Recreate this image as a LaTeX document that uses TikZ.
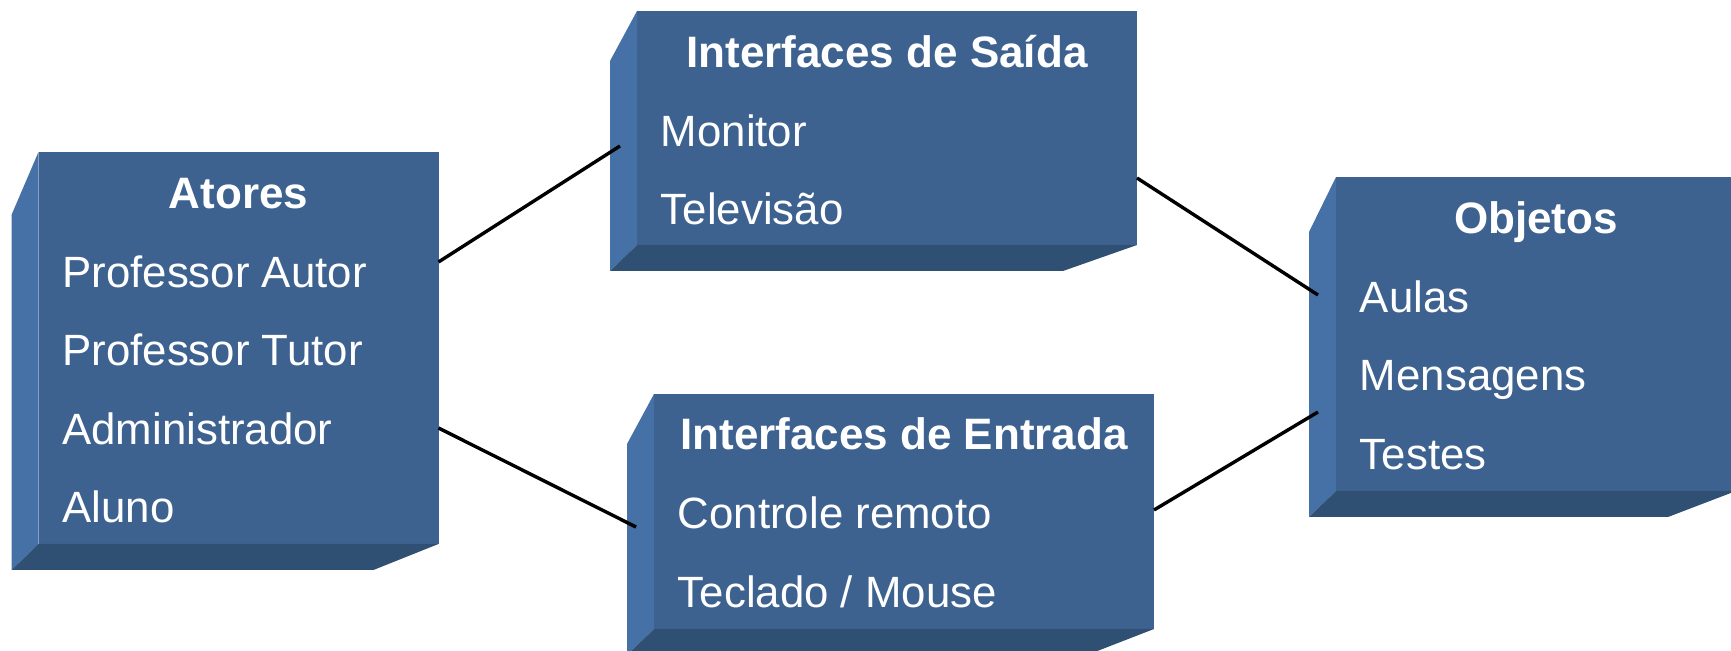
\documentclass[tikz,border=0pt]{standalone}
\usepackage{fontspec}
\setmainfont{Liberation Sans}
\usetikzlibrary{positioning,calc}
\definecolor{frontblue}{HTML}{3E6290}
\definecolor{sideblue}{HTML}{4571A6}
\definecolor{bottomblue}{HTML}{2F4F73}
\tikzstyle{front} = [rectangle, fill=frontblue, anchor=north west, inner sep=0pt, outer sep=0pt]
\tikzstyle{title} = [text=white, anchor=base, inner sep=0pt, font=\fontsize{22}{26}\selectfont\bfseries]
\tikzstyle{item} = [text=white, anchor=base west, inner sep=0pt, font=\fontsize{21.9}{26}\selectfont]
\tikzstyle{link} = [line width=1.7pt, black]
% side and bottom faces of a block: name, slant of the side, cut of the bottom
\newcommand{\boxfaces}[3]{%
  \fill[sideblue] (#1.north west) -- ++(-27,#2) -- ($(#1.south west)+(-27,26)$) -- (#1.south west) -- cycle;
  \fill[bottomblue] (#1.south west) -- ++(-27,26) -- ($(#1.south east)+(-#3,26)$) -- (#1.south east) -- cycle;}

\begin{document}
\begin{tikzpicture}[x=0.5pt,y=-0.5pt]
\clip (0,0) rectangle (1731,651);
\fill[white] (0,0) rectangle (1731,651);

\node(atores) [front, minimum width=200pt, minimum height=196pt] at (38.5,152) {};
\node(saida) [front, minimum width=250pt, minimum height=117pt] at (637,11) {};
\node(entrada) [front, minimum width=250pt, minimum height=117.5pt] at (654,394) {};
\node(objetos) [front, minimum width=200pt, minimum height=157pt] at (1336,177) {};

\boxfaces{atores}{63}{65}
\boxfaces{saida}{50}{74}
\boxfaces{entrada}{50}{67}
\boxfaces{objetos}{55}{68}

\node(atores-t) [title] at ($(atores.north)+(0,57)$) {Atores};
\node(atores-1) [item] at ($(atores.north west)+(23.5,135.5)$) {Professor Autor};
\node(atores-2) [item] at ($(atores-1.base west)+(0,78.5)$) {Professor Tutor};
\node(atores-3) [item] at ($(atores-2.base west)+(0,78.5)$) {Administrador};
\node(atores-4) [item] at ($(atores-3.base west)+(0,78.5)$) {Aluno};

\node(saida-t) [title] at ($(saida.north)+(0,57)$) {Interfaces de Saída};
\node(saida-1) [item] at ($(saida.north west)+(23.5,135.5)$) {Monitor};
\node(saida-2) [item] at ($(saida-1.base west)+(0,78.5)$) {Televisão};

\node(entrada-t) [title] at ($(entrada.north)+(0,56)$) {Interfaces de Entrada};
\node(entrada-1) [item] at ($(entrada.north west)+(23.5,134.5)$) {Controle remoto};
\node(entrada-2) [item] at ($(entrada-1.base west)+(0,79)$) {Teclado / Mouse};

\node(objetos-t) [title] at ($(objetos.north)+(0,57)$) {Objetos};
\node(objetos-1) [item] at ($(objetos.north west)+(23.5,135.5)$) {Aulas};
\node(objetos-2) [item] at ($(objetos-1.base west)+(0,78.5)$) {Mensagens};
\node(objetos-3) [item] at ($(objetos-2.base west)+(0,78.5)$) {Testes};

\draw[link] ($(atores.north east)+(0,110)$) -- ($(saida.north west)+(-17,135)$);
\draw[link] ($(atores.north east)+(0,276)$) -- ($(entrada.north west)+(-18,133)$);
\draw[link] ($(saida.north east)+(0,167)$) -- ($(objetos.north west)+(-18,118)$);
\draw[link] ($(entrada.north east)+(0,116)$) -- ($(objetos.north west)+(-18,235)$);

\end{tikzpicture}
\end{document}
